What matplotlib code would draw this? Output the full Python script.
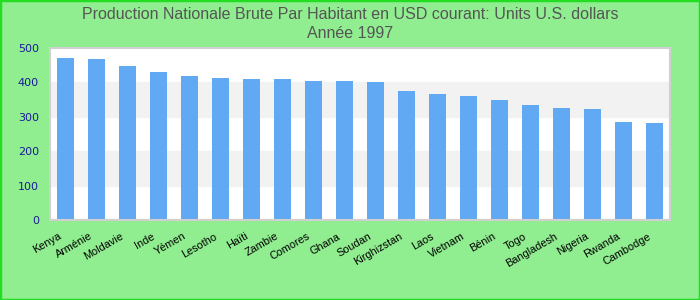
import matplotlib.pyplot as plt
import matplotlib.transforms as mtransforms
from matplotlib.patches import Rectangle

pays = ["Kenya", "Arménie", "Moldavie", "Inde", "Yémen", "Lesotho", "Haïti",
        "Zambie", "Comores", "Ghana", "Soudan", "Kirghizstan", "Laos", "Vietnam",
        "Bénin", "Togo", "Bangladesh", "Nigeria", "Rwanda", "Cambodge"]
valeurs = [471, 468, 448, 430, 419, 413, 410, 410, 404, 404, 401, 375, 366,
           360, 349, 334, 326, 323, 285, 282]
yticks = [0, 100, 200, 300, 400, 500]

fig = plt.figure(figsize=(7, 3), dpi=100, facecolor="#90EE90")
fig.patches.append(Rectangle((0, 0), 1, 1, transform=fig.transFigure,
                             fill=False, edgecolor="#22DD22", linewidth=2.5))
ax = fig.add_axes([50/700, 80/300, 620/700, 172/300])
ax.set_facecolor("white")

# bandes grises
for lo in (100, 300):
    ax.axhspan(lo, lo + 100, color="#F2F2F2", zorder=0)

x = range(len(pays))
ax.bar(x, valeurs, width=0.55, color="#61A9F3", zorder=2)

ax.set_xlim(-0.5, len(pays) - 0.5)
ax.set_ylim(0, 500)
ax.set_yticks(yticks)
ax.set_yticklabels([str(v) for v in yticks], color="#1A1A99", fontsize=8)
ax.set_xticks(list(x))
ax.set_xticklabels(pays, rotation=30, ha="right", rotation_mode="anchor",
                   fontsize=7.8, family="Liberation Sans")
ax.tick_params(axis="both", length=0)
ax.tick_params(axis="y", pad=8)
ax.tick_params(axis="x", pad=8)
decal = mtransforms.ScaledTranslation(-7/100, 0, fig.dpi_scale_trans)
for lab in ax.get_xticklabels():
    lab.set_transform(lab.get_transform() + decal)
for s in ax.spines.values():
    s.set_color("#D0D0D0")
    s.set_linewidth(1.5)

fig.text(0.5, 0.978, "Production Nationale Brute Par Habitant en USD courant: Units U.S. dollars\nAnnée 1997",
         ha="center", va="top", fontsize=11.5, color="#555555",
         family="Liberation Sans", linespacing=1.35)

fig.savefig("out.png", dpi=100, facecolor=fig.get_facecolor())
